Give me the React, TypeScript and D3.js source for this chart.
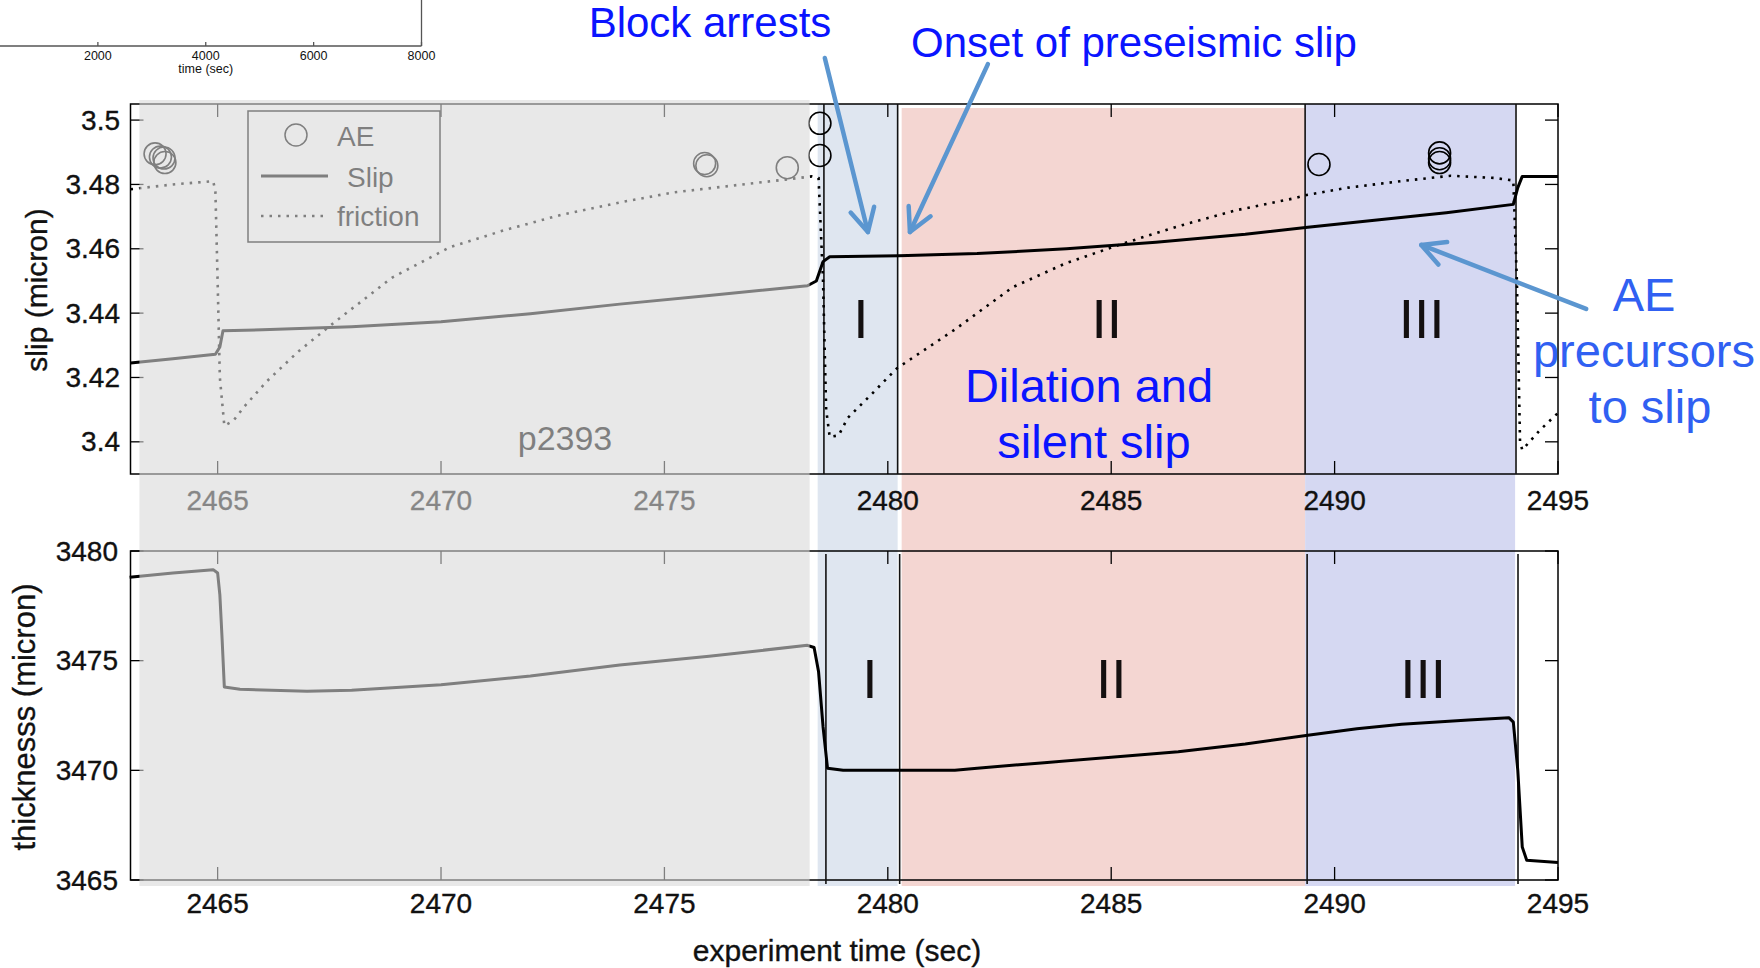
import React from 'react';
import * as d3 from 'd3';

const W = 1760;
const H = 968;
const FONT = "'Liberation Sans', Arial, Helvetica, sans-serif";

// ---------- data ----------
const xTicks = [2465, 2470, 2475, 2480, 2485, 2490, 2495];
const slipTicks = [3.5, 3.48, 3.46, 3.44, 3.42, 3.4];
const slipTickLabels = ['3.5', '3.48', '3.46', '3.44', '3.42', '3.4'];
const thickTicks = [3480, 3475, 3470, 3465];
const insetTicks = [2000, 4000, 6000, 8000];

const slipT = [2463.05, 2464.0, 2464.95, 2465.05, 2465.12, 2466, 2468, 2470, 2472, 2474, 2476, 2478.2, 2478.4, 2478.55, 2478.7, 2480.25, 2482, 2484, 2486, 2488, 2489.4, 2491, 2492.5, 2494.0, 2494.1, 2494.2, 2495];
const slipV = [3.4245, 3.4258, 3.4272, 3.4295, 3.4345, 3.4348, 3.4358, 3.4373, 3.4398, 3.4428, 3.4455, 3.4485, 3.45, 3.456, 3.4575, 3.4578, 3.4585, 3.46, 3.462, 3.4645, 3.4667, 3.469, 3.4712, 3.4738, 3.479, 3.4825, 3.4825];

const frictionT = [2463.05, 2464.0, 2464.9, 2464.95, 2465.0, 2465.05, 2465.15, 2465.35, 2465.6, 2466.1, 2466.8, 2467.6, 2468.9, 2470.2, 2471.4, 2472.7, 2474.0, 2475.2, 2476.5, 2477.7, 2478.3, 2478.45, 2478.55, 2478.62, 2478.7, 2478.9, 2479.1, 2479.65, 2480.2, 2481.5, 2482.8, 2484.0, 2485.3, 2486.5, 2487.8, 2489.1, 2489.4, 2490.3, 2491.6, 2492.6, 2493.6, 2494.0, 2494.08, 2494.15, 2494.2, 2494.6, 2495.0];
const frictionV = [3.4785, 3.48, 3.481, 3.478, 3.45, 3.42, 3.405, 3.4065, 3.411, 3.4188, 3.428, 3.437, 3.451, 3.4605, 3.4657, 3.4706, 3.4744, 3.4775, 3.4796, 3.4815, 3.4825, 3.482, 3.45, 3.41, 3.4015, 3.402, 3.4074, 3.415, 3.4228, 3.4349, 3.4481, 3.4556, 3.4618, 3.467, 3.472, 3.4757, 3.4768, 3.479, 3.4812, 3.4827, 3.482, 3.4812, 3.45, 3.4, 3.3975, 3.4037, 3.409];

const thickT = [2463.03, 2464.0, 2464.9, 2465.0, 2465.05, 2465.1, 2465.15, 2465.5, 2467.0, 2468.0, 2470.0, 2472.0, 2474.0, 2476.0, 2478.2, 2478.35, 2478.45, 2478.55, 2478.65, 2479.0, 2480.0, 2481.5, 2482.0, 2483.5, 2485.0, 2486.5, 2488.0, 2489.4, 2490.5, 2491.5, 2493.0, 2493.9, 2494.0, 2494.1, 2494.2, 2494.3, 2495.0];
const thickV = [3478.8, 3479.0, 3479.15, 3479.0, 3478.0, 3476.0, 3473.8, 3473.7, 3473.6, 3473.65, 3473.9, 3474.3, 3474.8, 3475.2, 3475.7, 3475.6, 3474.5, 3472.0, 3470.1, 3470.0, 3470.0, 3470.0, 3470.1, 3470.35, 3470.6, 3470.85, 3471.2, 3471.6, 3471.9, 3472.1, 3472.3, 3472.4, 3472.2, 3470.0, 3466.5, 3465.9, 3465.8];

const aeT = [2463.6, 2463.72, 2463.82, 2463.8, 2475.9, 2475.95, 2477.75, 2478.48, 2478.48, 2489.65, 2492.35, 2492.35, 2492.35];
const aeV = [3.4895, 3.4885, 3.4868, 3.4882, 3.4865, 3.4858, 3.4852, 3.499, 3.489, 3.4862, 3.4898, 3.488, 3.4868];

const phaseNames = ['I', 'II', 'III'];
const phaseStart = [2478.43, 2480.31, 2489.34];
const phaseEnd = [2480.22, 2489.34, 2494.04];
const phaseColors = ['#dfe6f0', '#f4d6d2', '#d5d8f2'];
const phaseLabelTopT = [2479.4, 2484.9, 2491.95];
const phaseLabelBotT = [2479.6, 2485.0, 2491.98];
const boundaryT = [2478.57, 2480.22, 2489.34, 2494.06];
const greySpan = [2463.25, 2478.25];

// annotation arrows in data coordinates of the slip panel: [t0, v0, t1, v1]
const arrowsData = [
  [2478.59, 3.5193, 2479.555, 3.4652],
  [2482.24, 3.5174, 2480.495, 3.4652],
  [2495.63, 3.4413, 2491.94, 3.4612],
];

function Arrow({ x1, y1, x2, y2 }: { x1: number; y1: number; x2: number; y2: number }) {
  const a = Math.atan2(y2 - y1, x2 - x1);
  const L = 26;
  const s = Math.PI / 6.5;
  const w1x = x2 - L * Math.cos(a - s), w1y = y2 - L * Math.sin(a - s);
  const w2x = x2 - L * Math.cos(a + s), w2y = y2 - L * Math.sin(a + s);
  const c = '#5b96d0';
  return (
    <g stroke={c} strokeWidth={4.5} strokeLinecap="round" fill="none">
      <line x1={x1} y1={y1} x2={x2} y2={y2} />
      <polyline points={`${w1x},${w1y} ${x2},${y2} ${w2x},${w2y}`} strokeLinejoin="round" />
    </g>
  );
}

export default function App() {
  const x = d3.scaleLinear().domain([2463.05, 2495]).range([130.5, 1558]);
  const yTop = d3.scaleLinear().domain([3.39, 3.505]).range([474, 104]);
  const yBot = d3.scaleLinear().domain([3465, 3480]).range([880, 551]);
  const xInset = d3.scaleLinear().domain([0, 8000]).range([-10, 421.5]);

  const slipLine = d3.line<number>().x((_, i) => x(slipT[i])).y((d) => yTop(d))(slipV) || '';
  const fricLine = d3.line<number>().x((_, i) => x(frictionT[i])).y((d) => yTop(d))(frictionV) || '';
  const thickLine = d3.line<number>().x((_, i) => x(thickT[i])).y((d) => yBot(d))(thickV) || '';

  const topY0 = yTop.range()[1], topY1 = yTop.range()[0];
  const botY0 = yBot.range()[1], botY1 = yBot.range()[0];
  const xL = x.range()[0], xR = x.range()[1];
  const tickLen = 13;
  const lab = { stroke: '#111', strokeWidth: 0.35 } as const;

  return (
    <svg width={W} height={H} style={{ position: 'absolute', left: 0, top: 0 }} fontFamily={FONT}>
      <rect width={W} height={H} fill="#fff" />

      {/* inset axis at top-left */}
      <g stroke="#555" strokeWidth={1.3}>
        <line x1={0} y1={46} x2={xInset(8000)} y2={46} />
        <line x1={xInset(8000)} y1={0} x2={xInset(8000)} y2={46} />
        {insetTicks.map((t) => (
          <line key={t} x1={xInset(t)} x2={xInset(t)} y1={46} y2={42} />
        ))}
      </g>
      {insetTicks.map((t) => (
        <text key={t} x={xInset(t)} y={60} fontSize={12.5} textAnchor="middle" fill="#111">{t}</text>
      ))}
      <text x={xInset(4000)} y={73} fontSize={12.5} textAnchor="middle" fill="#111">time (sec)</text>

      {/* phase regions */}
      {phaseStart.map((s, i) => (
        <rect key={i} x={x(s)} y={i === 1 ? 108 : 104} width={x(phaseEnd[i]) - x(s)} height={886 - (i === 1 ? 108 : 104)} fill={phaseColors[i]} />
      ))}

      {/* top panel frame and ticks */}
      <rect x={xL} y={topY0} width={xR - xL} height={topY1 - topY0} fill="none" stroke="#000" strokeWidth={1.5} />
      {xTicks.map((t) => (
        <g key={t} stroke="#000" strokeWidth={1.3}>
          <line x1={x(t)} x2={x(t)} y1={topY0} y2={topY0 + tickLen} />
          <line x1={x(t)} x2={x(t)} y1={topY1} y2={topY1 - tickLen} />
        </g>
      ))}
      {slipTicks.map((v) => (
        <g key={v} stroke="#000" strokeWidth={1.3}>
          <line x1={xL} x2={xL + tickLen} y1={yTop(v)} y2={yTop(v)} />
          <line x1={xR} x2={xR - tickLen} y1={yTop(v)} y2={yTop(v)} />
        </g>
      ))}
      {slipTicks.map((v, i) => (
        <text key={v} x={120} y={yTop(v)} fontSize={28} textAnchor="end" dominantBaseline="central" fill="#111" {...lab}>{slipTickLabels[i]}</text>
      ))}
      {xTicks.map((t) => (
        <text key={t} x={x(t)} y={500} fontSize={28} textAnchor="middle" dominantBaseline="central" fill="#111" {...lab}>{t}</text>
      ))}
      <text transform="translate(36,290) rotate(-90)" fontSize={30} textAnchor="middle" dominantBaseline="central" fill="#111" {...lab}>slip (micron)</text>

      {/* bottom panel frame and ticks */}
      <rect x={xL} y={botY0} width={xR - xL} height={botY1 - botY0} fill="none" stroke="#000" strokeWidth={1.5} />
      {xTicks.map((t) => (
        <g key={t} stroke="#000" strokeWidth={1.3}>
          <line x1={x(t)} x2={x(t)} y1={botY0} y2={botY0 + tickLen} />
          <line x1={x(t)} x2={x(t)} y1={botY1} y2={botY1 - tickLen} />
        </g>
      ))}
      {thickTicks.map((v) => (
        <g key={v} stroke="#000" strokeWidth={1.3}>
          <line x1={xL} x2={xL + tickLen} y1={yBot(v)} y2={yBot(v)} />
          <line x1={xR} x2={xR - tickLen} y1={yBot(v)} y2={yBot(v)} />
        </g>
      ))}
      {thickTicks.map((v) => (
        <text key={v} x={118} y={yBot(v)} fontSize={28} textAnchor="end" dominantBaseline="central" fill="#111" {...lab}>{v}</text>
      ))}
      {xTicks.map((t) => (
        <text key={t} x={x(t)} y={903} fontSize={28} textAnchor="middle" dominantBaseline="central" fill="#111" {...lab}>{t}</text>
      ))}
      <text transform="translate(24,717) rotate(-90)" fontSize={31} textAnchor="middle" dominantBaseline="central" fill="#111" {...lab}>thicknesss (micron)</text>
      <text x={837} y={950} fontSize={30} textAnchor="middle" dominantBaseline="central" fill="#111" {...lab}>experiment time (sec)</text>

      {/* phase boundary lines */}
      {boundaryT.map((t) => (
        <g key={t} stroke="#111" strokeWidth={1.6}>
          <line x1={x(t)} x2={x(t)} y1={topY0} y2={topY1} />
          <line x1={x(t) + 2} x2={x(t) + 2} y1={botY0 + 3} y2={botY1 + 4} />
        </g>
      ))}

      {/* data */}
      <path d={fricLine} fill="none" stroke="#000" strokeWidth={2.6} strokeDasharray="2.5 6" />
      <path d={slipLine} fill="none" stroke="#000" strokeWidth={3} strokeLinejoin="round" />
      <path d={thickLine} fill="none" stroke="#000" strokeWidth={3} strokeLinejoin="round" />
      {aeT.map((t, i) => (
        <circle key={i} cx={x(t)} cy={yTop(aeV[i])} r={11} fill="none" stroke="#000" strokeWidth={1.6} />
      ))}

      {/* legend */}
      <rect x={248} y={111} width={192} height={131} fill="#fff" stroke="#000" strokeWidth={1.5} />
      <circle cx={296} cy={135} r={11} fill="none" stroke="#000" strokeWidth={1.5} />
      <text x={337} y={136} fontSize={28} dominantBaseline="central" fill="#000">AE</text>
      <line x1={261} x2={328} y1={176} y2={176} stroke="#000" strokeWidth={3} />
      <text x={347} y={177} fontSize={28} dominantBaseline="central" fill="#000">Slip</text>
      <line x1={261} x2={328} y1={216} y2={216} stroke="#000" strokeWidth={2.6} strokeDasharray="2.5 6" />
      <text x={337} y={216} fontSize={28} dominantBaseline="central" fill="#000">friction</text>

      <text x={565} y={438} fontSize={34} textAnchor="middle" dominantBaseline="central" fill="#000">p2393</text>

      {/* phase numerals */}
      {phaseNames.map((n, i) => (
        <text key={'t' + n} x={x(phaseLabelTopT[i])} y={319} fontSize={55} textAnchor="middle" dominantBaseline="central" fill="#141010">{n}</text>
      ))}
      {phaseNames.map((n, i) => (
        <text key={'b' + n} x={x(phaseLabelBotT[i])} y={679} fontSize={55} textAnchor="middle" dominantBaseline="central" fill="#141010">{n}</text>
      ))}

      {/* grey wash over the earlier cycle */}
      <rect x={x(greySpan[0])} y={100} width={x(greySpan[1]) - x(greySpan[0])} height={786} fill="rgb(216,216,216)" fillOpacity={0.59} />

      {/* annotations */}
      {arrowsData.map((a, i) => (
        <Arrow key={i} x1={x(a[0])} y1={yTop(a[1])} x2={x(a[2])} y2={yTop(a[3])} />
      ))}
      <text x={710} y={22} fontSize={42} textAnchor="middle" dominantBaseline="central" fill="#0a14ff">Block arrests</text>
      <text x={1134} y={42} fontSize={42} textAnchor="middle" dominantBaseline="central" fill="#0a14ff">Onset of preseismic slip</text>
      <text x={1089} y={385} fontSize={47} textAnchor="middle" dominantBaseline="central" fill="#0a14ff">Dilation and</text>
      <text x={1094} y={441} fontSize={47} textAnchor="middle" dominantBaseline="central" fill="#0a14ff">silent slip</text>
      <text x={1644} y={294} fontSize={47} textAnchor="middle" dominantBaseline="central" fill="#3060f2">AE</text>
      <text x={1644} y={350} fontSize={47} textAnchor="middle" dominantBaseline="central" fill="#3060f2">precursors</text>
      <text x={1650} y={406} fontSize={47} textAnchor="middle" dominantBaseline="central" fill="#3060f2">to slip</text>
    </svg>
  );
}
